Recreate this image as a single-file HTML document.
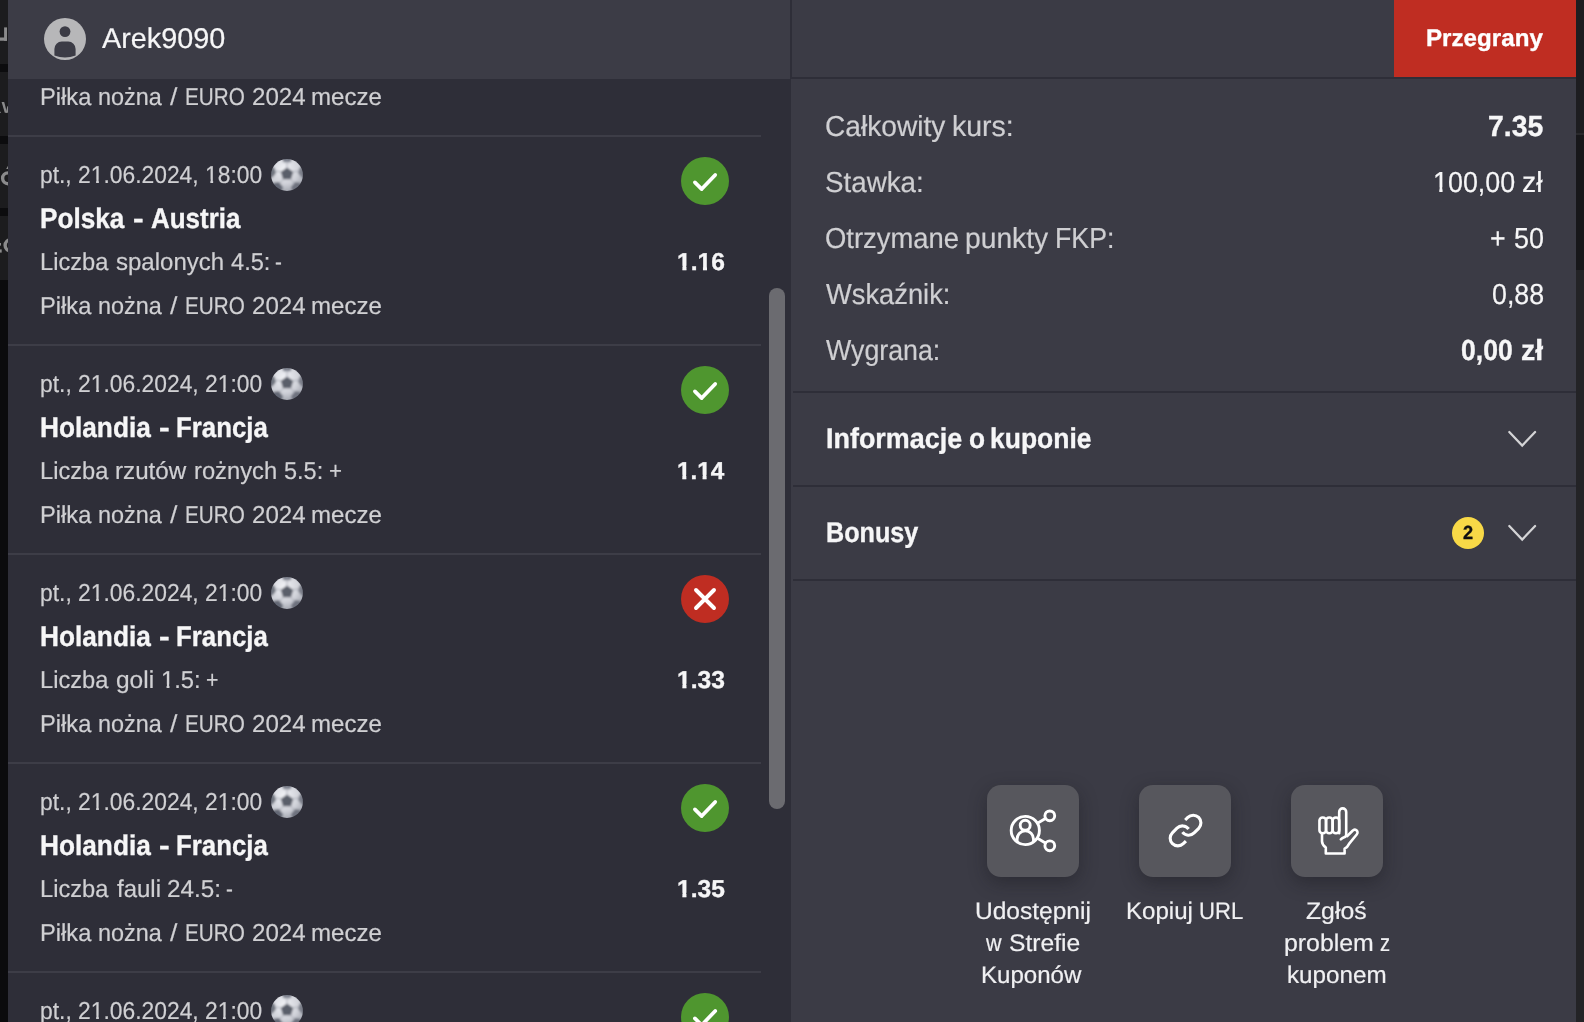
<!DOCTYPE html>
<html lang="pl"><head><meta charset="utf-8"><title>Kupon</title>
<style>
html,body{margin:0;padding:0;background:#2e2e38;}
body{width:1584px;height:1022px;overflow:hidden;position:relative;font-family:"Liberation Sans",sans-serif;}
.a{position:absolute;}
.t{position:absolute;white-space:nowrap;line-height:1;text-rendering:geometricPrecision;}
.hl{position:absolute;height:2px;}
.o4,.o7{display:inline-block}.o4{clip-path:polygon(0 0,100% 0,100% 62%,64% 62%,64% 100%,42% 100%,42% 62%,0 62%)}.o7{clip-path:polygon(0 0,100% 0,100% 60%,69% 60%,69% 100%,39.5% 100%,39.5% 60%,0 60%)}
.ball{position:absolute;}
.btn{position:absolute;width:92px;height:92px;border-radius:14px;background:#57575d;box-shadow:0 6px 18px rgba(20,20,26,.38);}
</style></head><body>
<svg width="0" height="0" style="position:absolute">
<defs>
<radialGradient id="bg1" cx="42%" cy="34%" r="70%"><stop offset="0" stop-color="#f1f2f6"/><stop offset=".55" stop-color="#cfd1d8"/><stop offset="1" stop-color="#8a8d98"/></radialGradient>
<filter id="bl" x="-20%" y="-20%" width="140%" height="140%"><feGaussianBlur stdDeviation=".8"/></filter>
<clipPath id="bc"><circle cx="16" cy="16" r="15.9"/></clipPath>
<symbol id="ballsym" viewBox="0 0 32 32">
<g clip-path="url(#bc)"><g filter="url(#bl)">
<rect x="-4" y="-4" width="40" height="40" fill="url(#bg1)"/>
<g fill="#5a5e6a">
<polygon points="16,8.4 22.2,12.9 19.9,20.2 12.1,20.2 9.8,12.9"/>
<polygon points="10.5,-2 21.5,-2 19.6,3.2 12.4,3.2" fill="#7c808c"/>
<polygon points="-2,7.5 3.4,8.5 5,14 1.5,18.4 -2,18.4" fill="#70747f"/>
<polygon points="34,7.5 28.6,8.5 27,14 30.5,18.4 34,18.4" fill="#7a7e89"/>
<polygon points="2,24 8,23 12,28.2 10,34 2,34" fill="#646874"/>
<polygon points="30,24 24,23 20,28.2 22,34 30,34" fill="#6e727e"/>
</g>
<g stroke="#a2a5b0" stroke-width=".9" fill="none">
<path d="M16 8.4V3M22.2 12.9l5.3-1M19.9 20.2l3.6 4.4M12.1 20.2l-3.6 4.4M9.8 12.9l-5.3-1"/>
</g>
</g></g>
</symbol>
</defs></svg>

<div class="a" style="left:0;top:0;width:8px;height:1022px;background:#0b0b0d"></div>
<div class="a" style="left:0;top:0;width:8px;height:280px;background:#1c1c1e"></div>
<svg class="a" style="left:0;top:0" width="8" height="290" viewBox="0 0 8 290">
<g fill="#0c0c0e"><rect x="0" y="64" width="8" height="8"/><rect x="0" y="136" width="8" height="8"/><rect x="0" y="208" width="8" height="8"/></g>
<g fill="#8b8b8c"><rect x="4.1" y="27.4" width="2.9" height="13.4"/><path d="M0 37.6H5.5Q6.6 37.6 7 36V40.8H0Z"/>
<polygon points="1.6,102 4.2,102 7,112.8 4.8,112.8"/><polygon points="5.9,112.8 7.3,106.2 8,106.2 8,112.8"/><rect x="0" y="111.8" width="0.9" height="1"/>
<polygon points="6.2,168.9 8,165.7 8,168.9"/>
<rect x="0" y="249.4" width="1.7" height="3.2"/><rect x="0" y="243" width="1" height="2.6"/></g>
<g fill="none" stroke="#8b8b8c" stroke-width="3.4"><circle cx="8" cy="178.3" r="5.4"/><circle cx="10.7" cy="245.3" r="5.6"/></g>
</svg>
<div class="a" style="left:8px;top:0;width:782px;height:79px;background:#3c3c46"></div>
<div class="a" style="left:791px;top:0;width:785px;height:1022px;background:#3b3b45"></div>
<div class="a" style="left:790px;top:0;width:2px;height:79px;background:#2e2e38"></div>
<div class="a" style="left:792px;top:77px;width:784px;height:2px;background:#2e2e38"></div>
<div class="a" style="left:1576px;top:0;width:8px;height:1022px;background:#232326"></div>
<div class="a" style="left:1576px;top:0;width:8px;height:134px;background:#1d1d20"></div>
<div class="a" style="left:1576px;top:133px;width:8px;height:2px;background:#29292c"></div>
<div class="a" style="left:1576px;top:135px;width:8px;height:135px;background:#17171a"></div>
<div class="a" style="left:1394px;top:0;width:182px;height:77px;background:#bf2d22"></div>
<svg class="a" style="left:44px;top:18px" width="42" height="42" viewBox="0 0 42 42"><defs><clipPath id="av"><circle cx="21" cy="21" r="21"/></clipPath></defs><circle cx="21" cy="21" r="21" fill="#b7b7b9"/><g clip-path="url(#av)" fill="#3c3c46"><circle cx="21" cy="13.6" r="5.4"/><path d="M10.4 37.5 V31 a7.4 7.4 0 0 1 7.4 -7.4 h6.4 a7.4 7.4 0 0 1 7.4 7.4 V37.5 Q21 41.5 10.4 37.5Z"/></g></svg>
<div class="hl" style="left:8px;top:135px;width:753px;background:#3d3d47"></div>
<div class="hl" style="left:8px;top:344px;width:753px;background:#3d3d47"></div>
<div class="hl" style="left:8px;top:553px;width:753px;background:#3d3d47"></div>
<div class="hl" style="left:8px;top:762px;width:753px;background:#3d3d47"></div>
<div class="hl" style="left:8px;top:971px;width:753px;background:#3d3d47"></div>
<svg class="ball" style="left:271px;top:159px" width="32" height="32" viewBox="0 0 32 32"><use href="#ballsym"/></svg>
<svg style="position:absolute;left:681px;top:157px" width="48" height="48" viewBox="0 0 48 48"><circle cx="24" cy="24" r="24" fill="#4f962f"/><path d="M13.9 25.4 L20.7 32.1 L34.2 17.9" fill="none" stroke="#fff" stroke-width="3.7" stroke-linecap="round" stroke-linejoin="round"/></svg>
<svg class="ball" style="left:271px;top:368px" width="32" height="32" viewBox="0 0 32 32"><use href="#ballsym"/></svg>
<svg style="position:absolute;left:681px;top:366px" width="48" height="48" viewBox="0 0 48 48"><circle cx="24" cy="24" r="24" fill="#4f962f"/><path d="M13.9 25.4 L20.7 32.1 L34.2 17.9" fill="none" stroke="#fff" stroke-width="3.7" stroke-linecap="round" stroke-linejoin="round"/></svg>
<svg class="ball" style="left:271px;top:577px" width="32" height="32" viewBox="0 0 32 32"><use href="#ballsym"/></svg>
<svg style="position:absolute;left:681px;top:575px" width="48" height="48" viewBox="0 0 48 48"><circle cx="24" cy="24" r="24" fill="#bf2d22"/><path d="M15 15 L33 33 M33 15 L15 33" fill="none" stroke="#fff" stroke-width="3.9" stroke-linecap="round"/></svg>
<svg class="ball" style="left:271px;top:786px" width="32" height="32" viewBox="0 0 32 32"><use href="#ballsym"/></svg>
<svg style="position:absolute;left:681px;top:784px" width="48" height="48" viewBox="0 0 48 48"><circle cx="24" cy="24" r="24" fill="#4f962f"/><path d="M13.9 25.4 L20.7 32.1 L34.2 17.9" fill="none" stroke="#fff" stroke-width="3.7" stroke-linecap="round" stroke-linejoin="round"/></svg>
<svg class="ball" style="left:271px;top:995px" width="32" height="32" viewBox="0 0 32 32"><use href="#ballsym"/></svg>
<svg style="position:absolute;left:681px;top:993px" width="48" height="48" viewBox="0 0 48 48"><circle cx="24" cy="24" r="24" fill="#4f962f"/><path d="M13.9 25.4 L20.7 32.1 L34.2 17.9" fill="none" stroke="#fff" stroke-width="3.7" stroke-linecap="round" stroke-linejoin="round"/></svg>
<div class="a" style="left:769px;top:288px;width:16px;height:521px;border-radius:8px;background:#6b6b70"></div>
<div class="hl" style="left:793px;top:391px;width:783px;background:#2e2e38"></div>
<div class="hl" style="left:793px;top:485px;width:783px;background:#2e2e38"></div>
<div class="hl" style="left:793px;top:579px;width:783px;background:#2e2e38"></div>
<svg class="a" style="left:1500px;top:421.3px" width="44" height="36" viewBox="0 0 44 36"><path d="M9.3 11 L22.2 24.6 L35.1 11" fill="none" stroke="#d4d4d6" stroke-width="2.2" stroke-linecap="round" stroke-linejoin="miter"/></svg>
<svg class="a" style="left:1500px;top:515.2px" width="44" height="36" viewBox="0 0 44 36"><path d="M9.3 11 L22.2 24.6 L35.1 11" fill="none" stroke="#d4d4d6" stroke-width="2.2" stroke-linecap="round" stroke-linejoin="miter"/></svg>
<div class="a" style="left:1452px;top:517px;width:32px;height:32px;border-radius:16px;background:#f8d947"></div>
<div class="btn" style="left:987px;top:785px"></div>
<div class="btn" style="left:1139px;top:785px"></div>
<div class="btn" style="left:1291px;top:785px"></div>
<svg class="a" style="left:987px;top:785px" width="92" height="92" viewBox="0 0 92 92" fill="none" stroke="#fff" stroke-width="2.9" stroke-linecap="round">
<defs><clipPath id="shc"><circle cx="38.3" cy="45.5" r="14.1"/></clipPath></defs>
<circle cx="38.3" cy="45.5" r="14.1"/><circle cx="38.2" cy="40.3" r="5"/>
<path clip-path="url(#shc)" d="M30.1 62 V54 a8.2 8.2 0 0 1 16.4 0 V62"/>
<circle cx="62.8" cy="30.85" r="4.9"/><circle cx="62.8" cy="60.8" r="4.9"/><path d="M50.9 38 L58.4 33.6 M50.9 53.6 L58.4 58"/></svg>
<svg class="a" style="left:1166.55px;top:812.3px" width="37.1" height="37.1" viewBox="0 0 24 24" fill="none" stroke="#fff" stroke-width="2" stroke-linecap="butt" stroke-linejoin="round">
<path d="M10 13a5 5 0 0 0 7.54.54l3-3a5 5 0 0 0-7.07-7.07l-1.72 1.71"/><path d="M14 11a5 5 0 0 0-7.54-.54l-3 3a5 5 0 0 0 7.07 7.07l1.71-1.71"/></svg>
<svg class="a" style="left:1291px;top:785px" width="92" height="92" viewBox="0 0 92 92" fill="none" stroke="#fff" stroke-width="2.6" stroke-linecap="round" stroke-linejoin="round">
<path d="M48.2 48.3 V26.9 a3.5 3.5 0 0 1 7 0 V49.4 Q55.2 51.6 53.2 52.2 Q51.2 52.9 49.8 54.4"/>
<rect x="28.45" y="32.5" width="6.58" height="15.8" rx="3.1"/><rect x="35.03" y="32.5" width="6.59" height="15.8" rx="3.1"/><rect x="41.62" y="32.5" width="6.58" height="15.8" rx="3.1"/>
<path d="M31 48.6 V56.2 Q31 59.6 34.8 62.6 V68.55 H53.6 V63.7 Q56.6 62.2 58.4 58.4 L65.9 49.2 a2.75 2.75 0 0 0 -4.3 -3.5 L56 51.2"/></svg>
<span class="t" id="t0" style="left:102.21px;top:25.00px;font-size:28.5px;font-weight:400;color:#f6f6f7;-webkit-text-stroke:0.2px #f6f6f7;transform-origin:0 0;transform:scaleX(1.0107)">Arek9090</span>
<span class="t" id="t1" style="left:40.11px;top:86.00px;font-size:24.4px;font-weight:400;color:#d0d0d3;-webkit-text-stroke:0.2px #d0d0d3;transform-origin:0 0;transform:scaleX(0.9714)">Piłka</span>
<span class="t" id="t2" style="left:98.21px;top:86.00px;font-size:24.4px;font-weight:400;color:#d0d0d3;-webkit-text-stroke:0.2px #d0d0d3;transform-origin:0 0;transform:scaleX(0.9609)">nożna</span>
<span class="t" id="t3" style="left:170.02px;top:86.00px;font-size:24.4px;font-weight:400;color:#d0d0d3;-webkit-text-stroke:0.2px #d0d0d3;transform-origin:0 0;transform:scaleX(1.0879)">/</span>
<span class="t" id="t4" style="left:185.38px;top:86.00px;font-size:24.4px;font-weight:400;color:#d0d0d3;-webkit-text-stroke:0.2px #d0d0d3;transform-origin:0 0;transform:scaleX(0.8489)">EURO</span>
<span class="t" id="t5" style="left:251.74px;top:86.00px;font-size:24.4px;font-weight:400;color:#d0d0d3;-webkit-text-stroke:0.2px #d0d0d3;transform-origin:0 0;transform:scaleX(0.9879)">2024</span>
<span class="t" id="t6" style="left:311.02px;top:86.00px;font-size:24.4px;font-weight:400;color:#d0d0d3;-webkit-text-stroke:0.2px #d0d0d3;transform-origin:0 0;transform:scaleX(0.9872)">mecze</span>
<span class="t" id="t7" style="left:40.05px;top:164.00px;font-size:24.4px;font-weight:400;color:#d0d0d3;-webkit-text-stroke:0.2px #d0d0d3;transform-origin:0 0;transform:scaleX(0.9357)">pt., 2<span class="o4">1</span>.06.2024, <span class="o4">1</span>8:00</span>
<span class="t" id="t8" style="left:39.79px;top:205.00px;font-size:28.4px;font-weight:700;color:#f6f6f7;-webkit-text-stroke:0.35px #f6f6f7;transform-origin:0 0;transform:scaleX(0.9213)">Polska</span>
<span class="t" id="t9" style="left:133.07px;top:205.00px;font-size:28.4px;font-weight:700;color:#f6f6f7;-webkit-text-stroke:0.35px #f6f6f7;transform-origin:0 0;transform:scaleX(1.1181)">-</span>
<span class="t" id="t10" style="left:151.27px;top:205.00px;font-size:28.4px;font-weight:700;color:#f6f6f7;-webkit-text-stroke:0.35px #f6f6f7;transform-origin:0 0;transform:scaleX(0.9141)">Austria</span>
<span class="t" id="t11" style="left:40.10px;top:251.00px;font-size:24.4px;font-weight:400;color:#d0d0d3;-webkit-text-stroke:0.2px #d0d0d3;transform-origin:0 0;transform:scaleX(0.9704)">Liczba</span>
<span class="t" id="t12" style="left:115.91px;top:251.00px;font-size:24.4px;font-weight:400;color:#d0d0d3;-webkit-text-stroke:0.2px #d0d0d3;transform-origin:0 0;transform:scaleX(0.9848)">spalonych</span>
<span class="t" id="t13" style="left:230.98px;top:251.00px;font-size:24.4px;font-weight:400;color:#d0d0d3;-webkit-text-stroke:0.2px #d0d0d3;transform-origin:0 0;transform:scaleX(0.9680)">4.5:</span>
<span class="t" id="t14" style="left:275.01px;top:251.00px;font-size:24.4px;font-weight:400;color:#d0d0d3;-webkit-text-stroke:0.2px #d0d0d3;transform-origin:0 0;transform:scaleX(0.8490)">-</span>
<span class="t" id="t15" style="left:677.36px;top:251.00px;font-size:24.4px;font-weight:700;color:#f6f6f7;-webkit-text-stroke:0.35px #f6f6f7;transform-origin:0 0;transform:scaleX(1.0090)"><span class="o7">1</span>.<span class="o7">1</span>6</span>
<span class="t" id="t16" style="left:40.11px;top:295.00px;font-size:24.4px;font-weight:400;color:#d0d0d3;-webkit-text-stroke:0.2px #d0d0d3;transform-origin:0 0;transform:scaleX(0.9714)">Piłka</span>
<span class="t" id="t17" style="left:98.21px;top:295.00px;font-size:24.4px;font-weight:400;color:#d0d0d3;-webkit-text-stroke:0.2px #d0d0d3;transform-origin:0 0;transform:scaleX(0.9609)">nożna</span>
<span class="t" id="t18" style="left:170.02px;top:295.00px;font-size:24.4px;font-weight:400;color:#d0d0d3;-webkit-text-stroke:0.2px #d0d0d3;transform-origin:0 0;transform:scaleX(1.0879)">/</span>
<span class="t" id="t19" style="left:185.38px;top:295.00px;font-size:24.4px;font-weight:400;color:#d0d0d3;-webkit-text-stroke:0.2px #d0d0d3;transform-origin:0 0;transform:scaleX(0.8489)">EURO</span>
<span class="t" id="t20" style="left:251.74px;top:295.00px;font-size:24.4px;font-weight:400;color:#d0d0d3;-webkit-text-stroke:0.2px #d0d0d3;transform-origin:0 0;transform:scaleX(0.9879)">2024</span>
<span class="t" id="t21" style="left:311.02px;top:295.00px;font-size:24.4px;font-weight:400;color:#d0d0d3;-webkit-text-stroke:0.2px #d0d0d3;transform-origin:0 0;transform:scaleX(0.9872)">mecze</span>
<span class="t" id="t22" style="left:39.89px;top:373.00px;font-size:24.4px;font-weight:400;color:#d0d0d3;-webkit-text-stroke:0.2px #d0d0d3;transform-origin:0 0;transform:scaleX(0.9358)">pt., 2<span class="o4">1</span>.06.2024, 2<span class="o4">1</span>:00</span>
<span class="t" id="t23" style="left:39.78px;top:414.00px;font-size:28.4px;font-weight:700;color:#f6f6f7;-webkit-text-stroke:0.35px #f6f6f7;transform-origin:0 0;transform:scaleX(0.9241)">Holandia</span>
<span class="t" id="t24" style="left:158.81px;top:414.00px;font-size:28.4px;font-weight:700;color:#f6f6f7;-webkit-text-stroke:0.35px #f6f6f7;transform-origin:0 0;transform:scaleX(1.1256)">-</span>
<span class="t" id="t25" style="left:176.11px;top:414.00px;font-size:28.4px;font-weight:700;color:#f6f6f7;-webkit-text-stroke:0.35px #f6f6f7;transform-origin:0 0;transform:scaleX(0.9090)">Francja</span>
<span class="t" id="t26" style="left:40.10px;top:460.00px;font-size:24.4px;font-weight:400;color:#d0d0d3;-webkit-text-stroke:0.2px #d0d0d3;transform-origin:0 0;transform:scaleX(0.9704)">Liczba</span>
<span class="t" id="t27" style="left:115.33px;top:460.00px;font-size:24.4px;font-weight:400;color:#d0d0d3;-webkit-text-stroke:0.2px #d0d0d3;transform-origin:0 0;transform:scaleX(0.9919)">rzutów</span>
<span class="t" id="t28" style="left:194.22px;top:460.00px;font-size:24.4px;font-weight:400;color:#d0d0d3;-webkit-text-stroke:0.2px #d0d0d3;transform-origin:0 0;transform:scaleX(0.9733)">rożnych</span>
<span class="t" id="t29" style="left:284.37px;top:460.00px;font-size:24.4px;font-weight:400;color:#d0d0d3;-webkit-text-stroke:0.2px #d0d0d3;transform-origin:0 0;transform:scaleX(0.9624)">5.5:</span>
<span class="t" id="t30" style="left:329.32px;top:460.00px;font-size:24.4px;font-weight:400;color:#d0d0d3;-webkit-text-stroke:0.2px #d0d0d3;transform-origin:0 0;transform:scaleX(0.9138)">+</span>
<span class="t" id="t31" style="left:677.36px;top:460.00px;font-size:24.4px;font-weight:700;color:#f6f6f7;-webkit-text-stroke:0.35px #f6f6f7;transform-origin:0 0;transform:scaleX(0.9946)"><span class="o7">1</span>.<span class="o7">1</span>4</span>
<span class="t" id="t32" style="left:40.11px;top:504.00px;font-size:24.4px;font-weight:400;color:#d0d0d3;-webkit-text-stroke:0.2px #d0d0d3;transform-origin:0 0;transform:scaleX(0.9714)">Piłka</span>
<span class="t" id="t33" style="left:98.21px;top:504.00px;font-size:24.4px;font-weight:400;color:#d0d0d3;-webkit-text-stroke:0.2px #d0d0d3;transform-origin:0 0;transform:scaleX(0.9609)">nożna</span>
<span class="t" id="t34" style="left:170.02px;top:504.00px;font-size:24.4px;font-weight:400;color:#d0d0d3;-webkit-text-stroke:0.2px #d0d0d3;transform-origin:0 0;transform:scaleX(1.0879)">/</span>
<span class="t" id="t35" style="left:185.38px;top:504.00px;font-size:24.4px;font-weight:400;color:#d0d0d3;-webkit-text-stroke:0.2px #d0d0d3;transform-origin:0 0;transform:scaleX(0.8489)">EURO</span>
<span class="t" id="t36" style="left:251.74px;top:504.00px;font-size:24.4px;font-weight:400;color:#d0d0d3;-webkit-text-stroke:0.2px #d0d0d3;transform-origin:0 0;transform:scaleX(0.9879)">2024</span>
<span class="t" id="t37" style="left:311.02px;top:504.00px;font-size:24.4px;font-weight:400;color:#d0d0d3;-webkit-text-stroke:0.2px #d0d0d3;transform-origin:0 0;transform:scaleX(0.9872)">mecze</span>
<span class="t" id="t38" style="left:39.89px;top:582.00px;font-size:24.4px;font-weight:400;color:#d0d0d3;-webkit-text-stroke:0.2px #d0d0d3;transform-origin:0 0;transform:scaleX(0.9358)">pt., 2<span class="o4">1</span>.06.2024, 2<span class="o4">1</span>:00</span>
<span class="t" id="t39" style="left:39.78px;top:623.00px;font-size:28.4px;font-weight:700;color:#f6f6f7;-webkit-text-stroke:0.35px #f6f6f7;transform-origin:0 0;transform:scaleX(0.9241)">Holandia</span>
<span class="t" id="t40" style="left:158.81px;top:623.00px;font-size:28.4px;font-weight:700;color:#f6f6f7;-webkit-text-stroke:0.35px #f6f6f7;transform-origin:0 0;transform:scaleX(1.1256)">-</span>
<span class="t" id="t41" style="left:176.11px;top:623.00px;font-size:28.4px;font-weight:700;color:#f6f6f7;-webkit-text-stroke:0.35px #f6f6f7;transform-origin:0 0;transform:scaleX(0.9090)">Francja</span>
<span class="t" id="t42" style="left:40.10px;top:669.00px;font-size:24.4px;font-weight:400;color:#d0d0d3;-webkit-text-stroke:0.2px #d0d0d3;transform-origin:0 0;transform:scaleX(0.9704)">Liczba</span>
<span class="t" id="t43" style="left:115.74px;top:669.00px;font-size:24.4px;font-weight:400;color:#d0d0d3;-webkit-text-stroke:0.2px #d0d0d3;transform-origin:0 0;transform:scaleX(1.0040)">goli</span>
<span class="t" id="t44" style="left:160.73px;top:669.00px;font-size:24.4px;font-weight:400;color:#d0d0d3;-webkit-text-stroke:0.2px #d0d0d3;transform-origin:0 0;transform:scaleX(0.9735)"><span class="o4">1</span>.5:</span>
<span class="t" id="t45" style="left:205.76px;top:669.00px;font-size:24.4px;font-weight:400;color:#d0d0d3;-webkit-text-stroke:0.2px #d0d0d3;transform-origin:0 0;transform:scaleX(0.8755)">+</span>
<span class="t" id="t46" style="left:677.36px;top:669.00px;font-size:24.4px;font-weight:700;color:#f6f6f7;-webkit-text-stroke:0.35px #f6f6f7;transform-origin:0 0;transform:scaleX(1.0094)"><span class="o7">1</span>.33</span>
<span class="t" id="t47" style="left:40.11px;top:713.00px;font-size:24.4px;font-weight:400;color:#d0d0d3;-webkit-text-stroke:0.2px #d0d0d3;transform-origin:0 0;transform:scaleX(0.9714)">Piłka</span>
<span class="t" id="t48" style="left:98.21px;top:713.00px;font-size:24.4px;font-weight:400;color:#d0d0d3;-webkit-text-stroke:0.2px #d0d0d3;transform-origin:0 0;transform:scaleX(0.9609)">nożna</span>
<span class="t" id="t49" style="left:170.02px;top:713.00px;font-size:24.4px;font-weight:400;color:#d0d0d3;-webkit-text-stroke:0.2px #d0d0d3;transform-origin:0 0;transform:scaleX(1.0879)">/</span>
<span class="t" id="t50" style="left:185.38px;top:713.00px;font-size:24.4px;font-weight:400;color:#d0d0d3;-webkit-text-stroke:0.2px #d0d0d3;transform-origin:0 0;transform:scaleX(0.8489)">EURO</span>
<span class="t" id="t51" style="left:251.74px;top:713.00px;font-size:24.4px;font-weight:400;color:#d0d0d3;-webkit-text-stroke:0.2px #d0d0d3;transform-origin:0 0;transform:scaleX(0.9879)">2024</span>
<span class="t" id="t52" style="left:311.02px;top:713.00px;font-size:24.4px;font-weight:400;color:#d0d0d3;-webkit-text-stroke:0.2px #d0d0d3;transform-origin:0 0;transform:scaleX(0.9872)">mecze</span>
<span class="t" id="t53" style="left:39.89px;top:791.00px;font-size:24.4px;font-weight:400;color:#d0d0d3;-webkit-text-stroke:0.2px #d0d0d3;transform-origin:0 0;transform:scaleX(0.9358)">pt., 2<span class="o4">1</span>.06.2024, 2<span class="o4">1</span>:00</span>
<span class="t" id="t54" style="left:39.78px;top:832.00px;font-size:28.4px;font-weight:700;color:#f6f6f7;-webkit-text-stroke:0.35px #f6f6f7;transform-origin:0 0;transform:scaleX(0.9241)">Holandia</span>
<span class="t" id="t55" style="left:158.81px;top:832.00px;font-size:28.4px;font-weight:700;color:#f6f6f7;-webkit-text-stroke:0.35px #f6f6f7;transform-origin:0 0;transform:scaleX(1.1256)">-</span>
<span class="t" id="t56" style="left:176.11px;top:832.00px;font-size:28.4px;font-weight:700;color:#f6f6f7;-webkit-text-stroke:0.35px #f6f6f7;transform-origin:0 0;transform:scaleX(0.9090)">Francja</span>
<span class="t" id="t57" style="left:40.10px;top:878.00px;font-size:24.4px;font-weight:400;color:#d0d0d3;-webkit-text-stroke:0.2px #d0d0d3;transform-origin:0 0;transform:scaleX(0.9704)">Liczba</span>
<span class="t" id="t58" style="left:117.24px;top:878.00px;font-size:24.4px;font-weight:400;color:#d0d0d3;-webkit-text-stroke:0.2px #d0d0d3;transform-origin:0 0;transform:scaleX(0.9839)">fauli</span>
<span class="t" id="t59" style="left:167.01px;top:878.00px;font-size:24.4px;font-weight:400;color:#d0d0d3;-webkit-text-stroke:0.2px #d0d0d3;transform-origin:0 0;transform:scaleX(0.9929)">24.5:</span>
<span class="t" id="t60" style="left:225.95px;top:878.00px;font-size:24.4px;font-weight:400;color:#d0d0d3;-webkit-text-stroke:0.2px #d0d0d3;transform-origin:0 0;transform:scaleX(0.8486)">-</span>
<span class="t" id="t61" style="left:677.36px;top:878.00px;font-size:24.4px;font-weight:700;color:#f6f6f7;-webkit-text-stroke:0.35px #f6f6f7;transform-origin:0 0;transform:scaleX(1.0070)"><span class="o7">1</span>.35</span>
<span class="t" id="t62" style="left:40.11px;top:922.00px;font-size:24.4px;font-weight:400;color:#d0d0d3;-webkit-text-stroke:0.2px #d0d0d3;transform-origin:0 0;transform:scaleX(0.9714)">Piłka</span>
<span class="t" id="t63" style="left:98.21px;top:922.00px;font-size:24.4px;font-weight:400;color:#d0d0d3;-webkit-text-stroke:0.2px #d0d0d3;transform-origin:0 0;transform:scaleX(0.9609)">nożna</span>
<span class="t" id="t64" style="left:170.02px;top:922.00px;font-size:24.4px;font-weight:400;color:#d0d0d3;-webkit-text-stroke:0.2px #d0d0d3;transform-origin:0 0;transform:scaleX(1.0879)">/</span>
<span class="t" id="t65" style="left:185.38px;top:922.00px;font-size:24.4px;font-weight:400;color:#d0d0d3;-webkit-text-stroke:0.2px #d0d0d3;transform-origin:0 0;transform:scaleX(0.8489)">EURO</span>
<span class="t" id="t66" style="left:251.74px;top:922.00px;font-size:24.4px;font-weight:400;color:#d0d0d3;-webkit-text-stroke:0.2px #d0d0d3;transform-origin:0 0;transform:scaleX(0.9879)">2024</span>
<span class="t" id="t67" style="left:311.02px;top:922.00px;font-size:24.4px;font-weight:400;color:#d0d0d3;-webkit-text-stroke:0.2px #d0d0d3;transform-origin:0 0;transform:scaleX(0.9872)">mecze</span>
<span class="t" id="t68" style="left:39.89px;top:1000.00px;font-size:24.4px;font-weight:400;color:#d0d0d3;-webkit-text-stroke:0.2px #d0d0d3;transform-origin:0 0;transform:scaleX(0.9358)">pt., 2<span class="o4">1</span>.06.2024, 2<span class="o4">1</span>:00</span>
<span class="t" id="t69" style="left:1426.26px;top:27.00px;font-size:24px;font-weight:700;color:#ffffff;-webkit-text-stroke:0.35px #ffffff;transform-origin:0 0;transform:scaleX(1.0070)">Przegrany</span>
<span class="t" id="t70" style="left:824.81px;top:113.00px;font-size:29px;font-weight:400;color:#cfcfd2;-webkit-text-stroke:0.2px #cfcfd2;transform-origin:0 0;transform:scaleX(0.9697)">Całkowity</span>
<span class="t" id="t71" style="left:951.65px;top:113.00px;font-size:29px;font-weight:400;color:#cfcfd2;-webkit-text-stroke:0.2px #cfcfd2;transform-origin:0 0;transform:scaleX(0.9821)">kurs:</span>
<span class="t" id="t72" style="left:824.86px;top:169.00px;font-size:29px;font-weight:400;color:#cfcfd2;-webkit-text-stroke:0.2px #cfcfd2;transform-origin:0 0;transform:scaleX(0.9575)">Stawka:</span>
<span class="t" id="t73" style="left:824.89px;top:225.00px;font-size:29px;font-weight:400;color:#cfcfd2;-webkit-text-stroke:0.2px #cfcfd2;transform-origin:0 0;transform:scaleX(0.9449)">Otrzymane</span>
<span class="t" id="t74" style="left:965.09px;top:225.00px;font-size:29px;font-weight:400;color:#cfcfd2;-webkit-text-stroke:0.2px #cfcfd2;transform-origin:0 0;transform:scaleX(0.9736)">punkty</span>
<span class="t" id="t75" style="left:1054.60px;top:225.00px;font-size:29px;font-weight:400;color:#cfcfd2;-webkit-text-stroke:0.2px #cfcfd2;transform-origin:0 0;transform:scaleX(0.9212)">FKP:</span>
<span class="t" id="t76" style="left:825.89px;top:281.00px;font-size:29px;font-weight:400;color:#cfcfd2;-webkit-text-stroke:0.2px #cfcfd2;transform-origin:0 0;transform:scaleX(0.9416)">Wskaźnik:</span>
<span class="t" id="t77" style="left:825.89px;top:337.00px;font-size:29px;font-weight:400;color:#cfcfd2;-webkit-text-stroke:0.2px #cfcfd2;transform-origin:0 0;transform:scaleX(0.9227)">Wygrana:</span>
<span class="t" id="t78" style="left:1488.41px;top:113.00px;font-size:29px;font-weight:700;color:#f6f6f7;-webkit-text-stroke:0.35px #f6f6f7;transform-origin:0 0;transform:scaleX(0.9775)">7.35</span>
<span class="t" id="t79" style="left:1433.40px;top:169.00px;font-size:29px;font-weight:400;color:#f6f6f7;-webkit-text-stroke:0.2px #f6f6f7;transform-origin:0 0;transform:scaleX(0.9260)"><span class="o4">1</span>00,00</span>
<span class="t" id="t80" style="left:1522.03px;top:169.00px;font-size:29px;font-weight:400;color:#f6f6f7;-webkit-text-stroke:0.2px #f6f6f7;transform-origin:0 0;transform:scaleX(0.9798)">zł</span>
<span class="t" id="t81" style="left:1490.09px;top:225.00px;font-size:29px;font-weight:400;color:#f6f6f7;-webkit-text-stroke:0.2px #f6f6f7;transform-origin:0 0;transform:scaleX(0.9237)">+</span>
<span class="t" id="t82" style="left:1513.95px;top:225.00px;font-size:29px;font-weight:400;color:#f6f6f7;-webkit-text-stroke:0.2px #f6f6f7;transform-origin:0 0;transform:scaleX(0.9287)">50</span>
<span class="t" id="t83" style="left:1491.88px;top:281.00px;font-size:29px;font-weight:400;color:#f6f6f7;-webkit-text-stroke:0.2px #f6f6f7;transform-origin:0 0;transform:scaleX(0.9226)">0,88</span>
<span class="t" id="t84" style="left:1460.70px;top:337.00px;font-size:29px;font-weight:700;color:#f6f6f7;-webkit-text-stroke:0.35px #f6f6f7;transform-origin:0 0;transform:scaleX(0.9163)">0,00</span>
<span class="t" id="t85" style="left:1520.94px;top:337.00px;font-size:29px;font-weight:700;color:#f6f6f7;-webkit-text-stroke:0.35px #f6f6f7;transform-origin:0 0;transform:scaleX(0.9806)">zł</span>
<span class="t" id="t86" style="left:826.28px;top:425.00px;font-size:28.5px;font-weight:700;color:#f6f6f7;-webkit-text-stroke:0.35px #f6f6f7;transform-origin:0 0;transform:scaleX(0.9447)">Informacje</span>
<span class="t" id="t87" style="left:968.83px;top:425.00px;font-size:28.5px;font-weight:700;color:#f6f6f7;-webkit-text-stroke:0.35px #f6f6f7;transform-origin:0 0;transform:scaleX(0.9206)">o</span>
<span class="t" id="t88" style="left:989.99px;top:425.00px;font-size:28.5px;font-weight:700;color:#f6f6f7;-webkit-text-stroke:0.35px #f6f6f7;transform-origin:0 0;transform:scaleX(0.9286)">kuponie</span>
<span class="t" id="t89" style="left:826.34px;top:519.00px;font-size:28.5px;font-weight:700;color:#f6f6f7;-webkit-text-stroke:0.35px #f6f6f7;transform-origin:0 0;transform:scaleX(0.8835)">Bonusy</span>
<span class="t" id="t90" style="left:1462.70px;top:524.00px;font-size:19px;font-weight:700;color:#111111;-webkit-text-stroke:0.35px #111111;transform-origin:0 0;transform:scaleX(0.9548)">2</span>
<span class="t" id="t91" style="left:975.07px;top:900.00px;font-size:24px;font-weight:400;color:#f0f0f2;-webkit-text-stroke:0.2px #f0f0f2;transform-origin:0 0;transform:scaleX(1.0214)">Udostępnij</span>
<span class="t" id="t92" style="left:985.90px;top:932.00px;font-size:24px;font-weight:400;color:#f0f0f2;-webkit-text-stroke:0.2px #f0f0f2;transform-origin:0 0;transform:scaleX(0.8975)">w</span>
<span class="t" id="t93" style="left:1008.87px;top:932.00px;font-size:24px;font-weight:400;color:#f0f0f2;-webkit-text-stroke:0.2px #f0f0f2;transform-origin:0 0;transform:scaleX(1.0257)">Strefie</span>
<span class="t" id="t94" style="left:981.47px;top:964.00px;font-size:24px;font-weight:400;color:#f0f0f2;-webkit-text-stroke:0.2px #f0f0f2;transform-origin:0 0;transform:scaleX(1.0016)">Kuponów</span>
<span class="t" id="t95" style="left:1125.63px;top:900.00px;font-size:24px;font-weight:400;color:#f0f0f2;-webkit-text-stroke:0.2px #f0f0f2;transform-origin:0 0;transform:scaleX(1.0034)">Kopiuj</span>
<span class="t" id="t96" style="left:1198.81px;top:900.00px;font-size:24px;font-weight:400;color:#f0f0f2;-webkit-text-stroke:0.2px #f0f0f2;transform-origin:0 0;transform:scaleX(0.9210)">URL</span>
<span class="t" id="t97" style="left:1305.58px;top:900.00px;font-size:24px;font-weight:400;color:#f0f0f2;-webkit-text-stroke:0.2px #f0f0f2;transform-origin:0 0;transform:scaleX(1.0317)">Zgłoś</span>
<span class="t" id="t98" style="left:1283.56px;top:932.00px;font-size:24px;font-weight:400;color:#f0f0f2;-webkit-text-stroke:0.2px #f0f0f2;transform-origin:0 0;transform:scaleX(1.0359)">problem</span>
<span class="t" id="t99" style="left:1379.75px;top:932.00px;font-size:24px;font-weight:400;color:#f0f0f2;-webkit-text-stroke:0.2px #f0f0f2;transform-origin:0 0;transform:scaleX(0.8413)">z</span>
<span class="t" id="t100" style="left:1287.46px;top:964.00px;font-size:24px;font-weight:400;color:#f0f0f2;-webkit-text-stroke:0.2px #f0f0f2;transform-origin:0 0;transform:scaleX(1.0090)">kuponem</span>
</body></html>
